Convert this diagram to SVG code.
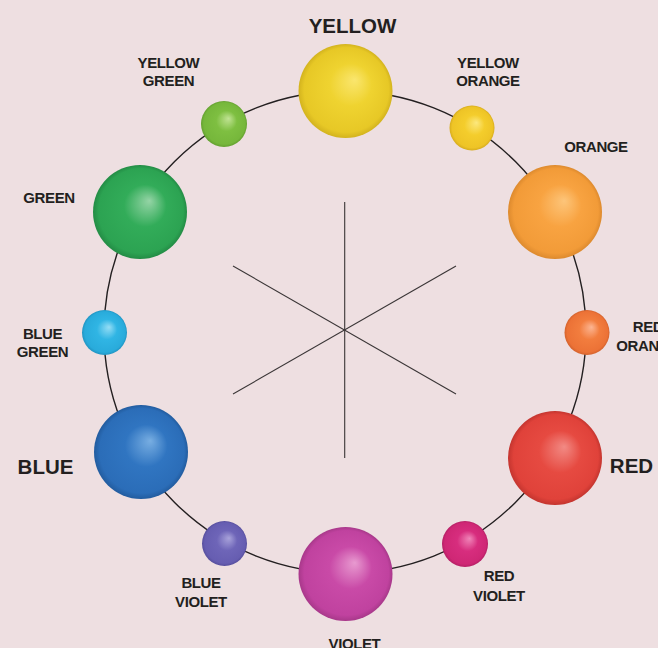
<svg xmlns="http://www.w3.org/2000/svg" width="658" height="648" viewBox="0 0 658 648">
<defs>
<style>
.lbl{font-family:"Liberation Sans",Arial,sans-serif;font-weight:bold;fill:#231F20;text-anchor:middle;}
.sm{font-size:15px;letter-spacing:-0.4px;}
.bg{font-size:20.5px;}
.ring{fill:none;stroke:#231F20;stroke-width:1.4;}
.star{stroke:#3a3536;stroke-width:1.1;}
</style>
<radialGradient id="gY" cx="0.5" cy="0.5" r="0.5" fx="0.6" fy="0.38"><stop offset="0" stop-color="#FAE66E"/><stop offset="0.45" stop-color="#EFD330"/><stop offset="0.9" stop-color="#E7C826"/><stop offset="1" stop-color="#D3B31E"/></radialGradient>
<radialGradient id="gYO" cx="0.5" cy="0.5" r="0.5" fx="0.6" fy="0.38"><stop offset="0" stop-color="#FCE87E"/><stop offset="0.45" stop-color="#F4CD2C"/><stop offset="0.9" stop-color="#EEC426"/><stop offset="1" stop-color="#D7AC1E"/></radialGradient>
<radialGradient id="gO" cx="0.5" cy="0.5" r="0.5" fx="0.6" fy="0.38"><stop offset="0" stop-color="#FDC57A"/><stop offset="0.45" stop-color="#F8A341"/><stop offset="0.9" stop-color="#F29B38"/><stop offset="1" stop-color="#DD8A2E"/></radialGradient>
<radialGradient id="gRO" cx="0.5" cy="0.5" r="0.5" fx="0.6" fy="0.38"><stop offset="0" stop-color="#FCB592"/><stop offset="0.45" stop-color="#F27D3E"/><stop offset="0.9" stop-color="#EC7236"/><stop offset="1" stop-color="#D4622C"/></radialGradient>
<radialGradient id="gR" cx="0.5" cy="0.5" r="0.5" fx="0.6" fy="0.38"><stop offset="0" stop-color="#F28A84"/><stop offset="0.45" stop-color="#E64A41"/><stop offset="0.9" stop-color="#E0423A"/><stop offset="1" stop-color="#C4352F"/></radialGradient>
<radialGradient id="gRV" cx="0.5" cy="0.5" r="0.5" fx="0.6" fy="0.38"><stop offset="0" stop-color="#F084B8"/><stop offset="0.45" stop-color="#D72D7E"/><stop offset="0.9" stop-color="#CF2775"/><stop offset="1" stop-color="#B51F65"/></radialGradient>
<radialGradient id="gV" cx="0.5" cy="0.5" r="0.5" fx="0.6" fy="0.38"><stop offset="0" stop-color="#E89AD0"/><stop offset="0.45" stop-color="#C94AA7"/><stop offset="0.9" stop-color="#C0429F"/><stop offset="1" stop-color="#A8388A"/></radialGradient>
<radialGradient id="gBV" cx="0.5" cy="0.5" r="0.5" fx="0.6" fy="0.38"><stop offset="0" stop-color="#A8A2DA"/><stop offset="0.45" stop-color="#6E65B8"/><stop offset="0.9" stop-color="#665DB1"/><stop offset="1" stop-color="#564E9D"/></radialGradient>
<radialGradient id="gB" cx="0.5" cy="0.5" r="0.5" fx="0.6" fy="0.38"><stop offset="0" stop-color="#78AEE2"/><stop offset="0.45" stop-color="#3075C1"/><stop offset="0.9" stop-color="#2B6DB8"/><stop offset="1" stop-color="#225C9F"/></radialGradient>
<radialGradient id="gBG" cx="0.5" cy="0.5" r="0.5" fx="0.6" fy="0.38"><stop offset="0" stop-color="#95DDF5"/><stop offset="0.45" stop-color="#30B5E4"/><stop offset="0.9" stop-color="#29ABDB"/><stop offset="1" stop-color="#2094C2"/></radialGradient>
<radialGradient id="gG" cx="0.5" cy="0.5" r="0.5" fx="0.6" fy="0.38"><stop offset="0" stop-color="#95D4A6"/><stop offset="0.45" stop-color="#32AC59"/><stop offset="0.9" stop-color="#2CA352"/><stop offset="1" stop-color="#238C45"/></radialGradient>
<radialGradient id="gYG" cx="0.5" cy="0.5" r="0.5" fx="0.6" fy="0.38"><stop offset="0" stop-color="#C0E393"/><stop offset="0.45" stop-color="#7EBF41"/><stop offset="0.9" stop-color="#76B73B"/><stop offset="1" stop-color="#63A02F"/></radialGradient>
</defs>
<rect x="0" y="0" width="658" height="648" fill="#EEDFE1"/>
<g id="connectors">
<circle class="ring" cx="345" cy="332" r="241"/>
<line class="star" x1="344.7" y1="202" x2="344.7" y2="458"/>
<line class="star" x1="233" y1="266" x2="456" y2="394"/>
<line class="star" x1="233" y1="394" x2="456" y2="266"/>
</g>
<g id="yellow"><circle cx="345.5" cy="91" r="47" fill="url(#gY)"/><text class="lbl bg" x="352.5" y="33">YELLOW</text></g>
<g id="yellow-orange"><circle cx="472" cy="128" r="22.5" fill="url(#gYO)"/><text class="lbl sm" x="488" y="68">YELLOW</text><text class="lbl sm" x="488" y="86">ORANGE</text></g>
<g id="orange"><circle cx="555" cy="212" r="47" fill="url(#gO)"/><text class="lbl sm" x="596" y="152">ORANGE</text></g>
<g id="red-orange"><circle cx="587" cy="332.5" r="22.5" fill="url(#gRO)"/><text class="lbl sm" x="648" y="332">RED</text><text class="lbl sm" x="648" y="351">ORANGE</text></g>
<g id="red"><circle cx="555" cy="458" r="47" fill="url(#gR)"/><text class="lbl bg" x="631.5" y="473">RED</text></g>
<g id="red-violet"><circle cx="465" cy="544" r="23" fill="url(#gRV)"/><text class="lbl sm" x="499" y="581">RED</text><text class="lbl sm" x="499" y="601">VIOLET</text></g>
<g id="violet"><circle cx="345.5" cy="574" r="47" fill="url(#gV)"/><text class="lbl sm" x="354.5" y="649">VIOLET</text></g>
<g id="blue-violet"><circle cx="224.5" cy="543.5" r="22.5" fill="url(#gBV)"/><text class="lbl sm" x="201" y="588">BLUE</text><text class="lbl sm" x="201" y="607">VIOLET</text></g>
<g id="blue"><circle cx="141" cy="452" r="47" fill="url(#gB)"/><text class="lbl bg" x="45.5" y="474">BLUE</text></g>
<g id="blue-green"><circle cx="104.5" cy="332.5" r="22.5" fill="url(#gBG)"/><text class="lbl sm" x="42.5" y="339">BLUE</text><text class="lbl sm" x="42.5" y="357">GREEN</text></g>
<g id="green"><circle cx="140" cy="212" r="47" fill="url(#gG)"/><text class="lbl sm" x="49" y="203">GREEN</text></g>
<g id="yellow-green"><circle cx="224" cy="124" r="23" fill="url(#gYG)"/><text class="lbl sm" x="168.5" y="68">YELLOW</text><text class="lbl sm" x="168.5" y="86">GREEN</text></g>
</svg>
